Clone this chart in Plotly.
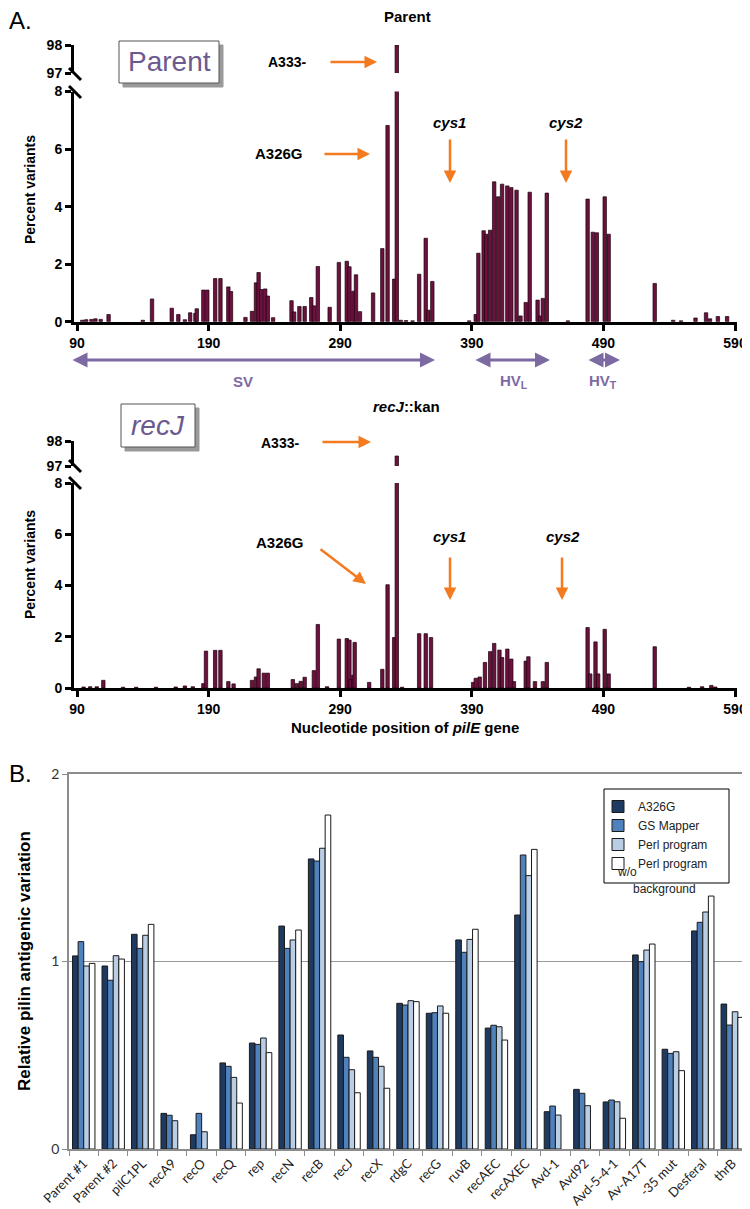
import plotly.graph_objects as go

# page body adds an 8px offset, so the figure is drawn 8px smaller and coordinates are shifted
OFF = 8
W, H = 750 - OFF, 1209 - OFF

# ---- Panel A data: nucleotide position, percent variants ----
parent_pos = [94, 97, 101, 104, 108, 114, 140, 147, 162, 167, 172, 176, 180, 181, 186, 189, 195, 199,
              205, 207, 218, 223, 226, 228, 230, 233, 235, 239, 253, 255, 259, 263, 268, 270, 273, 282,
              289, 295, 297, 300, 302, 305, 315, 322, 326, 331, 333, 336, 340, 345, 350, 355, 357, 360,
              388, 393, 395, 399, 401, 404, 407, 410, 413, 417, 420, 424, 427, 431, 434, 440, 442, 444,
              447, 463, 478, 482, 485, 491, 494, 529, 543, 549, 560, 568, 571, 577, 584]
parent_pct = [0.05, 0.07, 0.08, 0.1, 0.08, 0.25, 0.05, 0.79, 0.47, 0.25, 0.07, 0.31, 0.29, 0.45, 1.1, 1.1, 1.5, 1.5,
              1.21, 1.05, 0.15, 0.36, 1.35, 1.71, 1.12, 1.14, 0.89, 0.14, 0.73, 0.34, 0.53, 0.53, 0.84, 0.55, 1.92, 0.5,
              2.06, 2.1, 1.91, 1.06, 1.63, 0.35, 1.0, 2.54, 6.82, 1.48, 98.0, 0.05, 0.04, 0.03, 1.65, 2.9, 0.4, 1.4,
              0.03, 0.25, 2.38, 3.16, 3.04, 3.18, 4.86, 4.34, 4.78, 4.72, 4.66, 4.57, 0.2, 0.67, 4.5, 0.75, 0.2, 0.81,
              4.47, 0.03, 4.26, 3.11, 3.09, 4.34, 3.04, 1.33, 0.05, 0.03, 0.13, 0.31, 0.1, 0.18, 0.18]

recj_pos = [95, 100, 105, 110, 125, 135, 150, 165, 172, 178, 186, 188, 195, 199, 205, 209, 223, 226, 228,
            232, 235, 254, 257, 260, 263, 270, 273, 280, 289, 295, 297, 298, 300, 301, 312, 322, 326, 331,
            333, 337, 350, 355, 359, 391, 393, 396, 400, 404, 407, 411, 413, 417, 420, 422, 431, 433, 438,
            444, 447, 478, 480, 484, 486, 491, 494, 529, 555, 565, 572, 575]
recj_pct = [0.04, 0.05, 0.05, 0.3, 0.03, 0.03, 0.03, 0.04, 0.08, 0.05, 0.17, 1.44, 1.47, 1.47, 0.25, 0.16, 0.3, 0.43, 0.75,
            0.58, 0.58, 0.33, 0.17, 0.26, 0.42, 0.68, 2.48, 0.05, 1.91, 1.93, 1.87, 0.33, 0.5, 1.78, 0.22, 0.73, 4.03, 1.97,
            97.4, 0.03, 2.12, 2.12, 1.97, 0.22, 0.38, 0.43, 1.0, 1.42, 1.74, 1.48, 1.19, 1.52, 1.13, 0.25, 1.05, 1.22, 0.25,
            0.25, 1.0, 2.36, 0.55, 1.8, 0.55, 2.29, 0.55, 1.61, 0.03, 0.05, 0.1, 0.04]

pos_ticks = [90, 190, 290, 390, 490, 590]

# ---- Panel B data ----
strains = ["Parent #1", "Parent #2", "pilC1PL", "recA9", "recO", "recQ", "rep", "recN", "recB", "recJ",
           "recX", "rdgC", "recG", "ruvB", "recAEC", "recAXEC", "Avd-1", "Avd92", "Avd-5-4-1", "Av-A17T",
           "-35 mut", "Desferal", "thrB"]
a326g = [1.03, 0.976, 1.145, 0.19, 0.076, 0.459, 0.565, 1.189, 1.547, 0.608, 0.523, 0.777, 0.724, 1.115,
         0.645, 1.248, 0.199, 0.318, 0.251, 1.035, 0.532, 1.163, 0.773]
gs_mapper = [1.106, 0.90, 1.07, 0.18, 0.19, 0.441, 0.558, 1.07, 1.536, 0.489, 0.489, 0.768, 0.727, 1.049,
             0.66, 1.568, 0.229, 0.297, 0.261, 0.999, 0.51, 1.209, 0.661]
perl = [0.976, 1.031, 1.14, 0.151, 0.092, 0.382, 0.592, 1.115, 1.604, 0.423, 0.441, 0.791, 0.763, 1.118,
        0.652, 1.458, 0.181, 0.231, 0.252, 1.061, 0.519, 1.264, 0.732]
perl_wo = [0.99, 1.013, 1.198, None, None, 0.245, 0.514, 1.168, 1.781, 0.3, 0.324, 0.786, 0.724, 1.172,
           0.581, 1.598, None, None, 0.164, 1.093, 0.418, 1.349, 0.702]


def X(px):
    return (px - OFF) / W


def Y(py):
    return 1 - (py - OFF) / H


MAROON = "#6D1140"
ORANGE = "#F47A20"
PURPLE = "#7D6AA3"
BOLD = dict(family="Liberation Sans", size=14, color="black", weight="bold")
NARROW = dict(family="Liberation Sans Narrow, Liberation Sans", size=14, color="black", weight="bold")

fig = go.Figure()

for xa, ylo, yhi, pos, pct in [("x", "y", "y2", parent_pos, parent_pct),
                               ("x3", "y3", "y4", recj_pos, recj_pct)]:
    for ya in (ylo, yhi):
        fig.add_trace(go.Bar(x=pos, y=pct, xaxis=xa, yaxis=ya, width=2.6,
                             marker=dict(color=MAROON, line=dict(color="#1a0008", width=0.7)),
                             showlegend=False))

colors = ["#1F3A60", "#4F81BD", "#B9CDE5", "#FFFFFF"]
names = ["A326G", "GS Mapper", "Perl program", "Perl program"]
for vals, c, n in zip([a326g, gs_mapper, perl, perl_wo], colors, names):
    fig.add_trace(go.Bar(x=strains, y=vals, name=n, xaxis="x5", yaxis="y5",
                         marker=dict(color=c, line=dict(color="#1a1a1a", width=1))))

xr = [90 - 3 / 1.316, 590 + 2 / 1.316]
ax_common = dict(showline=True, linecolor="black", linewidth=3, ticks="outside", ticklen=6,
                 tickwidth=3, tickcolor="black", showgrid=False, zeroline=False, automargin=False)
xa_common = dict(ax_common, range=xr, tickvals=pos_ticks, tickfont=NARROW, domain=[X(74), X(737)])

fig.update_layout(
    template="none",
    width=W, height=H, margin=dict(l=0, r=0, t=0, b=0, pad=0, autoexpand=False),
    paper_bgcolor="white", plot_bgcolor="rgba(0,0,0,0)",
    barmode="group", bargap=0.24, bargroupgap=0,
    xaxis=dict(xa_common, anchor="y"),
    yaxis=dict(ax_common, range=[0, 8], tickvals=[0, 2, 4, 6, 8], tickfont=NARROW,
               domain=[Y(321.7), Y(91.5)], anchor="x"),
    yaxis2=dict(ax_common, range=[97, 98], tickvals=[97, 98], tickfont=NARROW,
                domain=[Y(73), Y(45)], anchor="x"),
    xaxis3=dict(xa_common, anchor="y3"),
    yaxis3=dict(ax_common, range=[0, 8], tickvals=[0, 2, 4, 6, 8], tickfont=NARROW,
                domain=[Y(688), Y(483)], anchor="x3"),
    yaxis4=dict(ax_common, range=[97, 98], tickvals=[97, 98], tickfont=NARROW,
                domain=[Y(466), Y(441)], anchor="x3"),
    xaxis5=dict(type="category", domain=[X(69), X(747)], anchor="y5", showline=True,
                linecolor="#8c8c8c", linewidth=1.5, mirror=True, ticks="outside", ticklen=5,
                tickcolor="#8c8c8c", tickson="boundaries", tickangle=-45, automargin=False,
                showgrid=False, zeroline=False,
                tickfont=dict(family="Lato", size=13, color="#222")),
    yaxis5=dict(range=[0, 2], tickvals=[0, 1, 2], domain=[Y(1149), Y(774)], anchor="x5",
                showline=True, linecolor="#8c8c8c", linewidth=1.5, mirror=True,
                showgrid=True, gridcolor="#9a9a9a", gridwidth=1, zeroline=False,
                ticks="outside", ticklen=5, tickcolor="#8c8c8c", automargin=False,
                tickfont=dict(family="Lato", size=14, color="#333")),
    legend=dict(x=X(598), y=Y(792), xanchor="left", yanchor="top", bgcolor="rgba(0,0,0,0)",
                font=dict(family="Liberation Sans", size=12, color="#222"), tracegroupgap=0,
                itemwidth=30, borderwidth=0),
    showlegend=True,
)

ann = []


def text(px, py, s, font, **kw):
    opts = dict(xanchor="center", yanchor="middle")
    opts.update(kw)
    ann.append(dict(x=X(px), y=Y(py), xref="paper", yref="paper", text=s, showarrow=False,
                    font=font, **opts))


def arrow(x0, y0, x1, y1, color, width=2.5, both=False):
    ann.append(dict(x=X(x1), y=Y(y1), ax=x0 - x1, ay=y0 - y1, xref="paper", yref="paper",
                    text="", showarrow=True, arrowhead=2, arrowsize=1, arrowwidth=width,
                    arrowcolor=color, arrowside="end+start" if both else "end"))


# panel labels and titles
text(20, 20, "A.", dict(family="Liberation Sans Narrow, Liberation Sans", size=24, color="black"))
text(20, 773, "B.", dict(family="Liberation Sans Narrow, Liberation Sans", size=24, color="black"))
text(407, 17, "Parent", dict(BOLD, size=15))
text(406, 406, "<i>recJ</i>::kan", dict(BOLD, size=15))
text(30, 190, "Percent variants", BOLD, textangle=-90)
text(30, 565, "Percent variants", BOLD, textangle=-90)
text(405, 727, "Nucleotide position of <i>pilE</i> gene", dict(BOLD, size=15))
text(24, 961, "Relative pilin antigenic variation", dict(BOLD, size=17), textangle=-90)

# variant labels and arrows - Parent
text(287, 62, "A333-", BOLD)
arrow(329, 62, 377, 62, ORANGE)
text(279, 154, "A326G", dict(BOLD, size=15))
arrow(323, 154, 370, 154, ORANGE)
text(449, 122, "<i>cys1</i>", dict(BOLD, size=15))
arrow(450, 138, 450, 183, ORANGE)
text(566, 122, "<i>cys2</i>", dict(BOLD, size=15))
arrow(566, 138, 566, 183, ORANGE)

# variant labels and arrows - recJ
text(280, 443, "A333-", BOLD)
arrow(321, 442, 371, 442, ORANGE)
text(280, 542, "A326G", dict(BOLD, size=15))
arrow(319, 548, 366, 584, ORANGE)
text(449, 536, "<i>cys1</i>", dict(BOLD, size=15))
arrow(450, 556, 450, 600, ORANGE)
text(563, 536, "<i>cys2</i>", dict(BOLD, size=15))
arrow(562, 556, 562, 600, ORANGE)

# region arrows
arrow(71, 360, 435, 360, PURPLE, width=3, both=True)
arrow(474, 360, 550, 360, PURPLE, width=3, both=True)
arrow(587, 360, 620, 360, PURPLE, width=3, both=True)
text(243, 382, "SV", dict(BOLD, size=15, color=PURPLE))
text(514, 382, "HV<sub>L</sub>", dict(BOLD, size=15, color=PURPLE))
text(603, 382, "HV<sub>T</sub>", dict(BOLD, size=15, color=PURPLE))

# strain boxes
text(169, 62, "Parent", dict(family="Liberation Sans Narrow, Liberation Sans", size=28, color="#6C5A8F"))
text(158, 425, "<i>recJ</i>", dict(family="Liberation Sans Narrow, Liberation Sans", size=28, color="#6C5A8F"))

# legend overflow text
text(615, 872, "w/o", dict(family="Liberation Sans", size=12, color="#222"), xanchor="left")
text(631, 889, "background", dict(family="Liberation Sans", size=12, color="#222"), xanchor="left")

fig.update_layout(annotations=ann)

shapes = []


def rect(x0, y0, x1, y1, line, fill, lw=1):
    shapes.append(dict(type="rect", xref="paper", yref="paper", x0=X(x0), x1=X(x1), y0=Y(y0), y1=Y(y1),
                       line=dict(color=line, width=lw), fillcolor=fill, layer="below"))


def seg(x0, y0, x1, y1, color="black", lw=3):
    shapes.append(dict(type="line", xref="paper", yref="paper", x0=X(x0), x1=X(x1), y0=Y(y0), y1=Y(y1),
                       line=dict(color=color, width=lw)))


rect(123, 45, 223, 87, "#9a9a9a", "#9a9a9a")
rect(119, 41, 219, 83, "#555", "white")
rect(125, 408, 199, 451, "#9a9a9a", "#9a9a9a")
rect(121, 404, 195, 447, "#555", "white")
rect(604, 789, 729, 883, "black", "rgba(0,0,0,0)")

# axis break marks
for a, b in [(68, 80), (86, 98), (460, 472), (477, 489)]:
    seg(69, a, 81, b)

fig.update_layout(shapes=shapes)

fig.write_html("out.html")
